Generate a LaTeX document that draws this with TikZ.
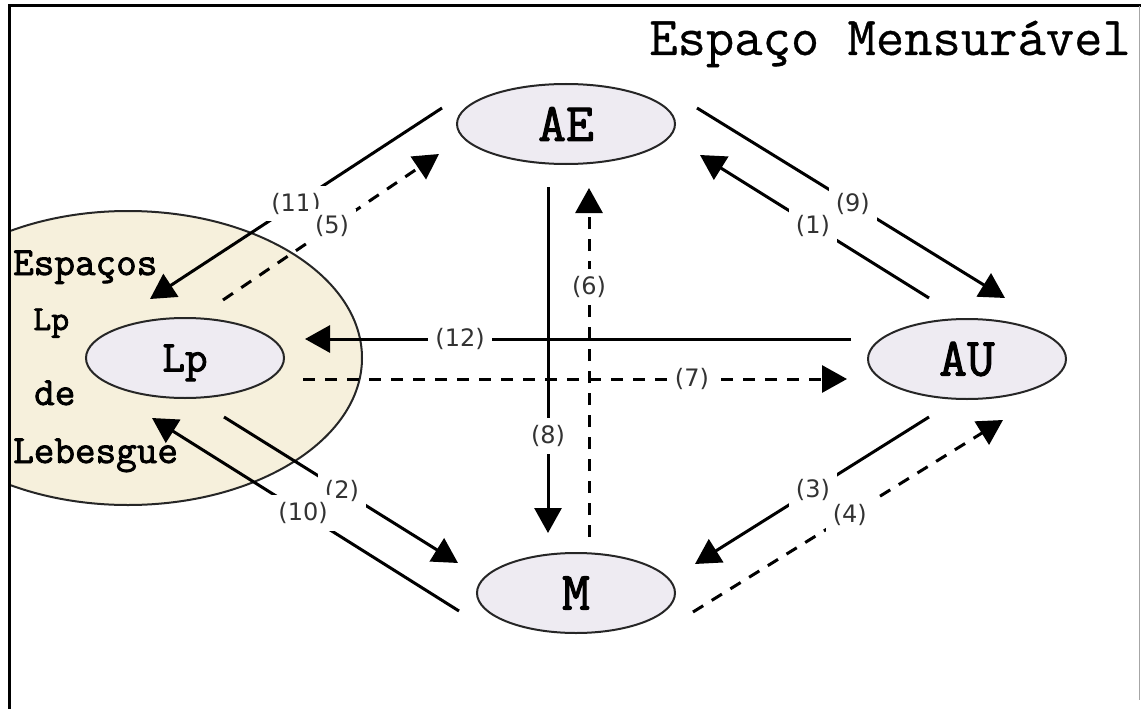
\documentclass[tikz,border=0pt]{standalone}
\usepackage{fontspec}
\newfontfamily\lblfont{DejaVu Sans}
\newfontfamily\ttheavy[FakeBold=2]{Latin Modern Mono}
\newfontfamily\ttmid[FakeBold=0.6]{Latin Modern Mono}
\usetikzlibrary{arrows.meta,shapes.geometric}
\definecolor{ellfill}{RGB}{238,235,242}
\definecolor{tanfill}{RGB}{246,240,220}
\begin{document}
\begin{tikzpicture}[x=1pt,y=-1pt,
  conn/.style={line width=3pt,-{Triangle[length=25pt,width=27pt]}},
  dconn/.style={conn,dash pattern=on 12pt off 10pt},
  lab/.style={fill=white,inner sep=7pt,font=\lblfont\fontsize{24}{24}\selectfont,text=black!80},
  ell/.style={ellipse,draw=black!85,line width=2pt,fill=ellfill,inner sep=0pt,
    minimum width=198pt,minimum height=80pt,font=\ttheavy\fontsize{54}{54}\selectfont},
  bigtxt/.style={font=\ttheavy\fontsize{40}{40}\selectfont,anchor=base west,inner sep=0pt},
]
\useasboundingbox (0,0) rectangle (1141,709);
\fill[white] (0,0) rectangle (1141,709);
% region of Lp spaces
\begin{scope}
  \clip (9,0) rectangle (1141,709);
  \node[ellipse,draw=black!85,line width=2pt,fill=tanfill,minimum width=468pt,minimum height=294pt] (region) at (128,358) {};
\end{scope}
% frame
\draw[line width=3pt] (9,709) -- (9,6) -- (1141,6);
\draw[line width=1pt,black!35] (1139,6) -- (1139,700);
\node[font=\ttmid\fontsize{55}{55}\selectfont,anchor=base east,inner sep=0pt] (title) at (1131,55) {Espaço Mensurável};
% texts of the region
\node[bigtxt] (t1) at (13,275) {Espaços};
\node[bigtxt,font=\ttheavy\fontsize{35}{35}\selectfont] (t2) at (33,330) {Lp};
\node[bigtxt] (t3) at (34,405) {de};
\node[bigtxt] (t4) at (13,463) {Lebesgue};
% main nodes
\node[ell,minimum width=218pt] (AE) at (566,124) {AE};
\node[ell] (AU) at (967,359) {AU};
\node[ell] (M) at (576,593) {M};
\node[ell,font=\ttheavy\fontsize{44}{44}\selectfont,text depth=0pt] (Lp) at (185,358) {Lp};
% connector ends
\coordinate (c11a) at (442,108); \coordinate (c11b) at (150,299);
\coordinate (c5a) at (223,300);  \coordinate (c5b) at (439,154);
\coordinate (c9a) at (697,108);  \coordinate (c9b) at (1005,298);
\coordinate (c1a) at (929,298);  \coordinate (c1b) at (700,155);
\coordinate (c12a) at (851,339); \coordinate (c12b) at (305,339);
\coordinate (c7a) at (303,379);  \coordinate (c7b) at (847,379);
\coordinate (c8a) at (548,187);  \coordinate (c8b) at (548,533);
\coordinate (c6a) at (589,537);  \coordinate (c6b) at (589,188);
\coordinate (c2a) at (224,417);  \coordinate (c2b) at (458,563);
\coordinate (c10a) at (459,611); \coordinate (c10b) at (152,418);
\coordinate (c3a) at (929,417);  \coordinate (c3b) at (695,564);
\coordinate (c4a) at (693,612);  \coordinate (c4b) at (1003,420);
% connectors
\draw[conn] (c11a) -- node[lab,pos=.5] {(11)} (c11b);
\draw[dconn] (c5a) -- node[lab,pos=.505] {(5)} (c5b);
\draw[conn] (c9a) -- node[lab,pos=.506] {(9)} (c9b);
\draw[conn] (c1a) -- node[lab,pos=.507] {(1)} (c1b);
\draw[conn] (c12a) -- node[lab,pos=.716] {(12)} (c12b);
\draw[dconn] (c7a) -- node[lab,pos=.715] {(7)} (c7b);
\draw[conn] (c8a) -- node[lab,pos=.72] {(8)} (c8b);
\draw[dconn] (c6a) -- node[lab,pos=.716] {(6)} (c6b);
\draw[conn] (c2a) -- node[lab,pos=.504] {(2)} (c2b);
\draw[conn] (c10a) -- node[lab,pos=.508] {(10)} (c10b);
\draw[conn] (c3a) -- node[lab,pos=.496] {(3)} (c3b);
\draw[dconn] (c4a) -- node[lab,pos=.506] {(4)} (c4b);
\end{tikzpicture}
\end{document}
